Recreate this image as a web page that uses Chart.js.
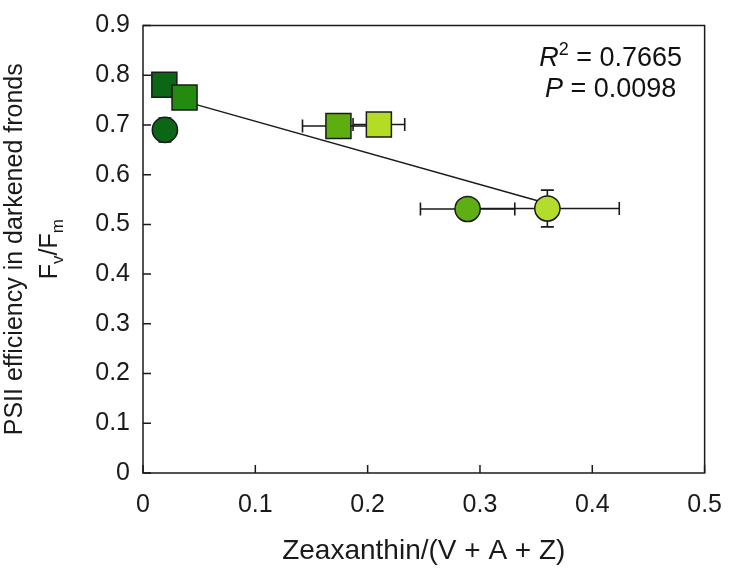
<!DOCTYPE html>
<html>
<head>
<meta charset="utf-8">
<script src="https://cdn.jsdelivr.net/npm/chart.js@4"></script>
<style>
  html, body { margin: 0; padding: 0; background: #ffffff; }
  #contenedor { width: 739px; height: 570px; }
</style>
</head>
<body>
<div id="contenedor"><canvas id="grafico"></canvas></div>
<script>
// datos
const zeaxantina = [0.019, 0.037, 0.0195, 0.174, 0.210, 0.289, 0.360];
const fvFm = [0.781, 0.755, 0.690, 0.698, 0.701, 0.531, 0.532];
const errorZea = [0, 0, 0, 0.032, 0.023, 0.042, 0.064];
const errorFvFm = [0, 0, 0.024, 0, 0, 0, 0.037];
const formas = ["rect", "rect", "circle", "rect", "rect", "circle", "circle"];
const colores = ["#0b6616", "#238c10", "#0b6616", "#5fae10", "#b4dc24", "#5fae14", "#b4dc2a"];

// recta de regresion
const ajusteX = [0.019, 0.360];
const ajusteY = [0.759, 0.542];

const ticksX = [0, 0.1, 0.2, 0.3, 0.4, 0.5];
const ticksY = [0, 0.1, 0.2, 0.3, 0.4, 0.5, 0.6, 0.7, 0.8, 0.9];
const etiquetasX = ["0", "0.1", "0.2", "0.3", "0.4", "0.5"];
const etiquetasY = ["0", "0.1", "0.2", "0.3", "0.4", "0.5", "0.6", "0.7", "0.8", "0.9"];

const FUENTE = "'Liberation Sans', Arial, sans-serif";

const puntos = zeaxantina.map((x, i) => ({ x: x, y: fvFm[i] }));
const recta = ajusteX.map((x, i) => ({ x: x, y: ajusteY[i] }));

// barras de error bajo los simbolos
const barrasError = {
  id: "barrasError",
  beforeDatasetsDraw(chart) {
    const ctx = chart.ctx;
    const sx = chart.scales.x, sy = chart.scales.y;
    const cap = 6.5;
    ctx.save();
    ctx.strokeStyle = "#1a1a1a";
    ctx.lineWidth = 1.6;
    for (let i = 0; i < zeaxantina.length; i++) {
      const px = sx.getPixelForValue(zeaxantina[i]);
      const py = sy.getPixelForValue(fvFm[i]);
      if (errorZea[i] > 0) {
        const x1 = sx.getPixelForValue(zeaxantina[i] - errorZea[i]);
        const x2 = sx.getPixelForValue(zeaxantina[i] + errorZea[i]);
        ctx.beginPath();
        ctx.moveTo(x1, py); ctx.lineTo(x2, py);
        ctx.moveTo(x1, py - cap); ctx.lineTo(x1, py + cap);
        ctx.moveTo(x2, py - cap); ctx.lineTo(x2, py + cap);
        ctx.stroke();
      }
      if (errorFvFm[i] > 0) {
        const y1 = sy.getPixelForValue(fvFm[i] - errorFvFm[i]);
        const y2 = sy.getPixelForValue(fvFm[i] + errorFvFm[i]);
        ctx.beginPath();
        ctx.moveTo(px, y1); ctx.lineTo(px, y2);
        ctx.moveTo(px - cap, y1); ctx.lineTo(px + cap, y1);
        ctx.moveTo(px - cap, y2); ctx.lineTo(px + cap, y2);
        ctx.stroke();
      }
    }
    ctx.restore();
  }
};

// marco, marcas hacia dentro, titulo del eje y y estadisticos
const decoracion = {
  id: "decoracion",
  afterDraw(chart) {
    const ctx = chart.ctx;
    const a = chart.chartArea;
    const sx = chart.scales.x, sy = chart.scales.y;
    ctx.save();
    ctx.strokeStyle = "#1a1a1a";
    ctx.lineWidth = 1.5;
    ctx.strokeRect(a.left, a.top, a.right - a.left, a.bottom - a.top);
    ctx.beginPath();
    ticksY.forEach(v => {
      const y = sy.getPixelForValue(v);
      ctx.moveTo(a.left, y); ctx.lineTo(a.left + 8, y);
    });
    ticksX.forEach(v => {
      const x = sx.getPixelForValue(v);
      ctx.moveTo(x, a.bottom); ctx.lineTo(x, a.bottom - 8);
    });
    ctx.stroke();

    // titulo del eje y (dos lineas, con subindices)
    const cy = (a.top + a.bottom) / 2;
    ctx.fillStyle = "#1a1a1a";
    ctx.translate(0, cy);
    ctx.rotate(-Math.PI / 2);
    ctx.textBaseline = "alphabetic";
    ctx.textAlign = "center";
    ctx.font = "25px " + FUENTE;
    ctx.fillText("PSII efficiency in darkened fronds", 0, 22);

    const partes = [["F", 25, 0], ["v", 17, 6], ["/F", 25, 0], ["m", 17, 6]];
    let total = 0;
    partes.forEach(p => { ctx.font = p[1] + "px " + FUENTE; total += ctx.measureText(p[0]).width; });
    let xx = -total / 2;
    ctx.textAlign = "left";
    partes.forEach(p => {
      ctx.font = p[1] + "px " + FUENTE;
      ctx.fillText(p[0], xx, 57 + p[2]);
      xx += ctx.measureText(p[0]).width;
    });
    ctx.restore();

    // R2 y P
    ctx.save();
    ctx.fillStyle = "#111111";
    ctx.textBaseline = "alphabetic";
    const cx = a.right - 94;
    const linea1 = [["R", "italic 27px ", 0], ["2", "18px ", -11], [" = 0.7665", "27px ", 0]];
    const linea2 = [["P", "italic 27px ", 0], [" = 0.0098", "27px ", 0]];
    [[linea1, 66], [linea2, 97]].forEach(([linea, base]) => {
      let w = 0;
      linea.forEach(p => { ctx.font = p[1] + FUENTE; w += ctx.measureText(p[0]).width; });
      let x = cx - w / 2;
      linea.forEach(p => {
        ctx.font = p[1] + FUENTE;
        ctx.fillText(p[0], x, base + p[2]);
        x += ctx.measureText(p[0]).width;
      });
    });
    ctx.restore();
  }
};

const ctx = document.getElementById("grafico").getContext("2d");

new Chart(ctx, {
  type: "scatter",
  data: {
    datasets: [
      {
        label: "Fv/Fm",
        data: puntos,
        pointStyle: formas,
        pointRadius: formas.map(f => f === "rect" ? 17.7 : 12.6),
        pointHoverRadius: formas.map(f => f === "rect" ? 17.7 : 12.6),
        pointBackgroundColor: colores,
        pointBorderColor: "#1a1a1a",
        pointBorderWidth: 1.5,
        showLine: false
      },
      {
        label: "ajuste",
        data: recta,
        showLine: true,
        borderColor: "#1a1a1a",
        borderWidth: 1.5,
        pointRadius: 0,
        fill: false
      }
    ]
  },
  options: {
    responsive: true,
    maintainAspectRatio: false,
    animation: false,
    layout: {
      padding: { top: 12, right: 19, left: 0, bottom: 0 }
    },
    plugins: {
      legend: { display: false },
      tooltip: { enabled: false }
    },
    scales: {
      x: {
        type: "linear",
        min: 0,
        max: 0.5,
        afterBuildTicks: s => { s.ticks = ticksX.map(v => ({ value: v })); },
        afterFit: s => { s.height = 97; },
        grid: { display: false, drawTicks: false },
        border: { display: false },
        ticks: {
          padding: 17,
          color: "#1a1a1a",
          font: { family: FUENTE, size: 25 },
          maxRotation: 0,
          callback: (v, i) => etiquetasX[i]
        },
        title: {
          display: true,
          text: "Zeaxanthin/(V + A + Z)",
          color: "#1a1a1a",
          font: { family: FUENTE, size: 28 },
          padding: { top: 0, bottom: 2 }
        }
      },
      y: {
        type: "linear",
        min: 0,
        max: 0.9,
        afterBuildTicks: s => { s.ticks = ticksY.map(v => ({ value: v })); },
        afterFit: s => { s.width = 143; },
        grid: { display: false, drawTicks: false },
        border: { display: false },
        ticks: {
          padding: 13,
          color: "#1a1a1a",
          font: { family: FUENTE, size: 25, lineHeight: 1 },
          callback: (v, i) => etiquetasY[i]
        }
      }
    }
  },
  plugins: [barrasError, decoracion]
});
</script>
</body>
</html>
